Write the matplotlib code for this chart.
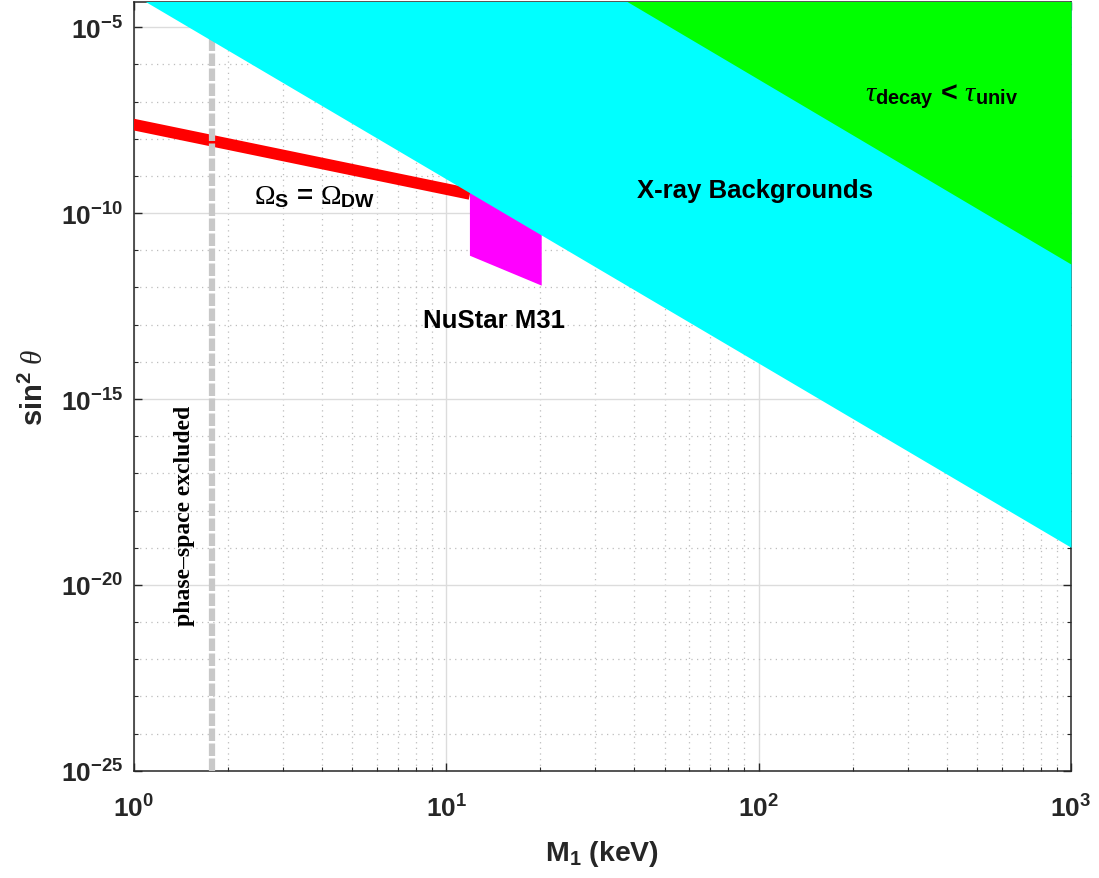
import numpy as np
import matplotlib
matplotlib.use('Agg')
import matplotlib.pyplot as plt
from matplotlib.ticker import FixedLocator, LogLocator, FuncFormatter, NullFormatter

plt.rcParams['font.family'] = ['Liberation Sans', 'DejaVu Sans']
plt.rcParams['mathtext.fontset'] = 'custom'
plt.rcParams['mathtext.rm'] = 'Liberation Serif'
plt.rcParams['mathtext.it'] = 'Liberation Serif:italic'
plt.rcParams['mathtext.bf'] = 'Liberation Sans:bold'

# values (M1 in keV, sin^2 theta)
xray_m = [1.0, 1000.0]
xray_lower = [10**-4.126, 10**-18.99]       # X-ray background bound
univ_m = [10.0, 1000.0]
univ_lower = [10**-1.43, 10**-11.37]        # tau_decay < tau_univ bound
dw_m = [0.8, 11.9]
dw_sin2 = [10**-7.45, 10**-9.485]           # Omega_S = Omega_DW line
nustar_m = [11.9, 20.2, 20.2, 11.9]
nustar_sin2 = [10**-9.40, 10**-10.56, 10**-11.95, 10**-11.145]
phase_space_m = 1.773
fill_top = 1e-3

txt_col = '#262626'

fig = plt.figure(figsize=(10.99, 8.79), dpi=100)
ax = fig.add_axes([0.12193, 0.12207, 0.85259, 0.87418])
ax.set_xscale('log')
ax.set_yscale('log')
ax.set_xlim(1, 1000)
ax.set_ylim(1e-25, 10**-4.327)
ax.set_axisbelow(True)

ax.fill_between(xray_m, xray_lower, fill_top, color='#00ffff', lw=0, zorder=4)
ax.fill_between(univ_m, univ_lower, fill_top, color='#00ff00', lw=0, zorder=4.1)
ax.plot(dw_m, dw_sin2, color='#ff0000', lw=8.3, solid_capstyle='butt', zorder=2.8)
ax.fill(nustar_m, nustar_sin2, color='#ff00ff', lw=0, zorder=3.2)
ax.axvline(phase_space_m, color='#c8c8c8', lw=4.5, dashes=(2, 0.4), zorder=3)

# text labels
ax.text(3.8, 10**-9.55, r'$\Omega_{\mathbf{S}}$ = $\Omega_{\mathbf{DW}}$',
        fontsize=20, fontweight='bold', ha='center', va='center', color='k', zorder=5)
ax.text(97, 10**-9.39, 'X-ray Backgrounds', fontsize=18.5, fontweight='bold',
        ha='center', va='center', color='k', zorder=5)
ax.text(219, 10**-6.85, r'$\tau_{\mathbf{decay}}$ < $\tau_{\mathbf{univ}}$',
        fontsize=20.5, fontweight='bold', ha='left', va='center', color='k', zorder=5)
ax.text(14.2, 10**-12.875, 'NuStar M31', fontsize=18.5, fontweight='bold',
        ha='center', va='center', color='k', zorder=5)
ax.text(1.456, 10**-18.12, 'phase\u2013space excluded', fontsize=17, fontweight='bold',
        family='Liberation Serif', rotation=90, ha='center', va='center', color='k', zorder=5)

# ticks
ax.xaxis.set_major_locator(FixedLocator([1, 10, 100, 1000]))
ax.xaxis.set_minor_locator(LogLocator(base=10, subs=np.arange(2, 10), numticks=20))
ax.yaxis.set_major_locator(FixedLocator([1e-25, 1e-20, 1e-15, 1e-10, 1e-5]))
ax.yaxis.set_minor_locator(FixedLocator([10.0**k for k in range(-25, -4) if k % 5 != 0]))
fmt = FuncFormatter(lambda v, p: r'$\mathbf{10^{%d}}$' % int(round(np.log10(v))))
ax.xaxis.set_major_formatter(fmt)
ax.yaxis.set_major_formatter(fmt)
ax.xaxis.set_minor_formatter(NullFormatter())
ax.yaxis.set_minor_formatter(NullFormatter())

ax.tick_params(which='both', direction='in', top=True, right=True, colors=txt_col,
               labelsize=19)
ax.tick_params(which='major', length=6, width=1)
ax.tick_params(which='minor', length=3, width=0.8)
ax.tick_params(axis='x', which='major', pad=17)
ax.tick_params(axis='y', which='major', pad=8)

ax.grid(which='major', color='#dcdcdc', lw=1, ls='-')
ax.grid(which='minor', color='#bdbdbd', lw=0.9, ls=(0, (1, 3.5)))

for s in ax.spines.values():
    s.set_color(txt_col)
    s.set_linewidth(1.1)

ax.set_xlabel(r'$\mathbf{M_1}$ (keV)', fontsize=20.5, fontweight='bold', color=txt_col, labelpad=12)
ax.set_ylabel(r'$\mathbf{sin^2}\ \theta$', fontsize=21, fontweight='bold', color=txt_col, labelpad=8)

fig.savefig('out.png', dpi=100)
